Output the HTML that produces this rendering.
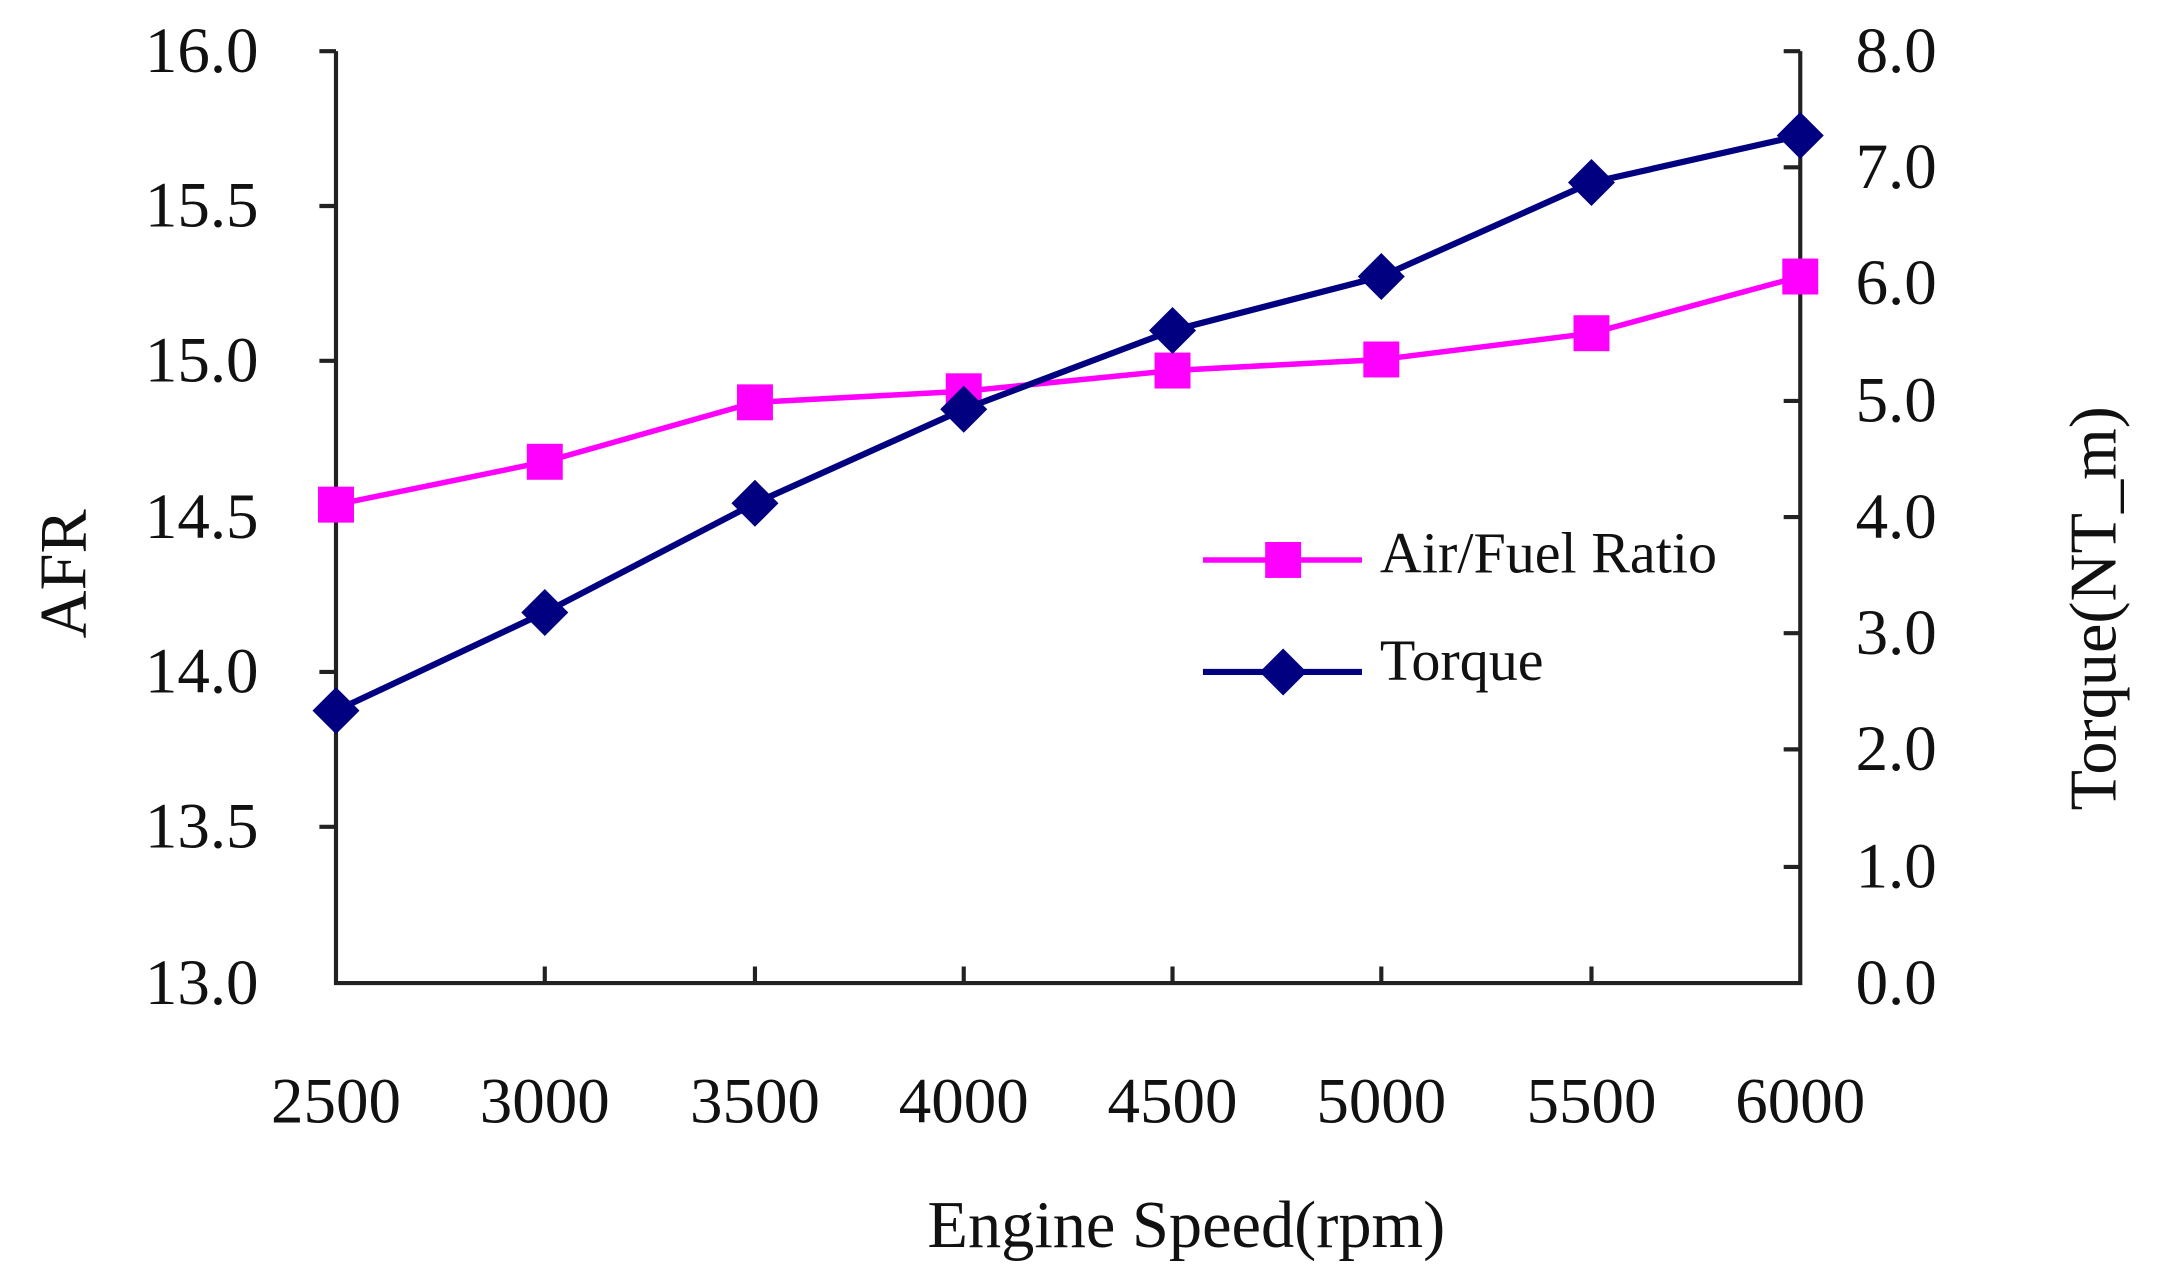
<!DOCTYPE html>
<html><head><meta charset="utf-8"><style>html,body{margin:0;padding:0;background:#fff}svg{display:block}</style></head>
<body>
<svg width="2157" height="1272" viewBox="0 0 1560 920" preserveAspectRatio="none" xmlns="http://www.w3.org/2000/svg" font-family="'Liberation Serif', serif" fill="#111">
<g stroke="#222" stroke-width="3" fill="none">
<path d="M243,37 V711 H1302 V37"/>
<path d="M231,37H243 M231,149H243 M231,261H243 M231,374H243 M231,486H243 M231,598H243"/>
<path d="M1290,37H1302 M1290,121H1302 M1290,205H1302 M1290,290H1302 M1290,374H1302 M1290,458H1302 M1290,542H1302 M1290,627H1302"/>
<path d="M394,699V711 M546,699V711 M697,699V711 M848,699V711 M999,699V711 M1151,699V711"/>
</g>
<g font-size="47" text-anchor="end">
<text x="187" y="52">16.0</text><text x="187" y="164">15.5</text><text x="187" y="276">15.0</text><text x="187" y="389">14.5</text><text x="187" y="501">14.0</text><text x="187" y="613">13.5</text><text x="187" y="726">13.0</text>
</g>
<g font-size="47">
<text x="1342" y="52">8.0</text><text x="1342" y="136">7.0</text><text x="1342" y="220">6.0</text><text x="1342" y="305">5.0</text><text x="1342" y="389">4.0</text><text x="1342" y="473">3.0</text><text x="1342" y="557">2.0</text><text x="1342" y="642">1.0</text><text x="1342" y="726">0.0</text>
</g>
<g font-size="47" text-anchor="middle">
<text x="243" y="812">2500</text><text x="394" y="812">3000</text><text x="546" y="812">3500</text><text x="697" y="812">4000</text><text x="848" y="812">4500</text><text x="999" y="812">5000</text><text x="1151" y="812">5500</text><text x="1302" y="812">6000</text>
<text x="858" y="902" font-size="48">Engine Speed(rpm)</text>
<text transform="translate(62,415) rotate(-90)" font-size="48">AFR</text>
<text transform="translate(1530,440) rotate(-90)" font-size="48">Torque(NT_m)</text>
</g>
<polyline fill="none" stroke="#FF00FF" stroke-width="4" points="243,365 394,334 546,291 697,283 848,268 999,260 1151,241 1302,200"/>
<g fill="#FF00FF">
<rect x="230" y="352" width="26" height="26"/><rect x="381" y="321" width="26" height="26"/><rect x="533" y="278" width="26" height="26"/><rect x="684" y="270" width="26" height="26"/><rect x="835" y="255" width="26" height="26"/><rect x="986" y="247" width="26" height="26"/><rect x="1138" y="228" width="26" height="26"/><rect x="1289" y="187" width="26" height="26"/>
</g>
<polyline fill="none" stroke="#000080" stroke-width="4.5" points="243,514 394,443 546,364 697,296 848,239 999,200 1151,132 1302,98"/>
<g fill="#000080">
<path d="M243,497l17,17l-17,17l-17,-17z"/><path d="M394,426l17,17l-17,17l-17,-17z"/><path d="M546,347l17,17l-17,17l-17,-17z"/><path d="M697,279l17,17l-17,17l-17,-17z"/><path d="M848,222l17,17l-17,17l-17,-17z"/><path d="M999,183l17,17l-17,17l-17,-17z"/><path d="M1151,115l17,17l-17,17l-17,-17z"/><path d="M1302,81l17,17l-17,17l-17,-17z"/>
</g>
<line x1="870" y1="405" x2="985" y2="405" stroke="#FF00FF" stroke-width="4"/>
<rect x="915" y="392" width="26" height="26" fill="#FF00FF"/>
<line x1="870" y1="486" x2="985" y2="486" stroke="#000080" stroke-width="4.5"/>
<path d="M928,469l17,17l-17,17l-17,-17z" fill="#000080"/>
<text x="998" y="414" font-size="42">Air/Fuel Ratio</text>
<text x="998" y="492" font-size="42">Torque</text>
</svg>
</body></html>
